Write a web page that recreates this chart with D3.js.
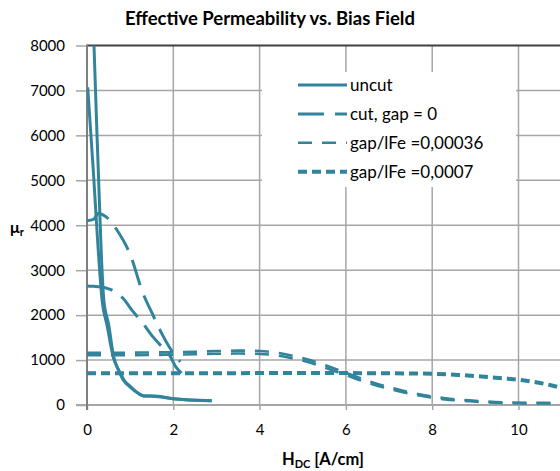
<!DOCTYPE html>
<html>
<head>
<meta charset="utf-8">
<script src="https://cdn.jsdelivr.net/npm/d3@7"></script>
<style>
  body { margin: 0; background: #fff; }
  svg { display: block; font-family: Lato, "Open Sans", sans-serif; }
</style>
</head>
<body>
<div id="chart"></div>
<script>
// values: [H_DC (A/cm), mu_r]
const uncutA = [[0.016,7070],[0.146,5220],[0.25,3600],[0.35,2330],[0.47,1750],[0.6,1100],[0.72,790],[0.84,560],[1.0,400],[1.19,260],[1.3,205],[1.54,195],[2.0,140],[2.89,95]];
const uncutB = [[0.12,9500],[0.162,8000],[0.262,5220],[0.33,3400],[0.39,2330],[0.5,1800],[0.62,1060],[0.74,770],[0.86,550],[1.02,400],[1.2,250],[1.32,200],[1.55,200],[2.0,140],[2.89,95]];
const cutA = [[0,4100],[0.15,4130],[0.26,4260],[0.37,4230],[0.49,4150],[0.69,3900],[1.0,3350],[1.3,2480],[1.5,2060],[1.69,1670],[1.9,1300],[2.16,960]];
const cutB = [[0,2650],[0.15,2640],[0.3,2630],[0.45,2600],[0.57,2560],[0.84,2370],[1.05,2100],[1.27,1850],[1.5,1550],[1.75,1280],[1.92,1100],[2.05,860],[2.19,710]];
const gap36A = [[0,1160],[0.5,1160],[1,1165],[1.5,1170],[2,1175],[2.5,1185],[3,1200],[3.5,1210],[4,1200],[4.3,1175],[4.8,1090],[5.2,990],[5.5,890],[6,720],[6.5,540],[7.1,370],[7.7,240],[8.3,150],[9,95],[9.6,60],[10.3,50],[11,50],[12,50]];
const gap36B = [[0,1110],[1,1110],[2,1120],[3,1140],[3.5,1145],[4,1135],[4.3,1115],[4.8,1030],[5.2,935],[5.5,835],[6,665],[6.5,495],[7.1,335],[7.7,210],[8.3,125],[9,75],[9.6,45],[10.3,35],[11,35],[12,35]];
const gap7 = [[0,705],[1,705],[2,705],[3,708],[4,710],[5,712],[6,710],[7,705],[8,695],[8.6,670],[9.2,630],[9.7,590],[10.1,550],[10.5,490],[10.8,430],[11,385],[11.5,300],[12,230]];

const legendNames = ['uncut', 'cut, gap = 0', 'gap/lFe =0,00036', 'gap/lFe =0,0007'];
const xTicks = [0, 2, 4, 6, 8, 10];
const yTicks = [0, 1000, 2000, 3000, 4000, 5000, 6000, 7000, 8000];

const teal = '#31849b';
const dashes = ['none', '26,11', '14,10', '9,5'];
const widths = [3, 3, 2.6, 4];

const series = [
    {leg: 0, pts: uncutA}, {leg: 0, pts: uncutB},
    {leg: 1, pts: cutA}, {leg: 1, pts: cutB},
    {leg: 2, pts: gap36A}, {leg: 2, pts: gap36B},
    {leg: 3, pts: gap7}
];

const W = 560, H = 471;
const pLeft = 87, pTop = 45.5, pBottom = 405;

const svg = d3.select('#chart').append('svg')
    .attr('width', W)
    .attr('height', H);

// plot runs past the right edge of the picture, as in the cropped original
const x = d3.scaleLinear().domain([0, 12]).range([pLeft, pLeft + 43.15 * 12]);
const y = d3.scaleLinear().domain([0, 8000]).range([pBottom, pTop]);

// gridlines
svg.append('g')
    .selectAll('line')
    .data(yTicks.filter(d => d > 0 && d < 8000))
    .join('line')
    .attr('x1', pLeft).attr('x2', x(12))
    .attr('y1', d => y(d)).attr('y2', d => y(d))
    .attr('stroke', '#a6a6a6').attr('stroke-width', 1.5);

svg.append('g')
    .selectAll('line')
    .data(xTicks.filter(d => d > 0))
    .join('line')
    .attr('x1', d => x(d)).attr('x2', d => x(d))
    .attr('y1', pTop).attr('y2', pBottom)
    .attr('stroke', '#a6a6a6').attr('stroke-width', 1.5);

// top border
svg.append('line')
    .attr('x1', pLeft).attr('x2', x(12))
    .attr('y1', y(8000)).attr('y2', y(8000))
    .attr('stroke', '#404040').attr('stroke-width', 2);

// Y-axis
const yAxis = svg.append('g')
    .attr('transform', `translate(${pLeft},0)`)
    .call(d3.axisLeft(y).tickValues(yTicks).tickSize(11).tickPadding(11).tickFormat(d3.format('d')));
yAxis.select('.domain').remove();
yAxis.selectAll('.tick line').attr('stroke', '#a6a6a6').attr('stroke-width', 1.5);
yAxis.selectAll('.tick text').attr('font-size', 15).attr('fill', '#000').attr('font-family', 'Lato');

// X-axis
const xAxis = svg.append('g')
    .attr('transform', `translate(0,${pBottom})`)
    .call(d3.axisBottom(x).tickValues(xTicks).tickSize(5).tickPadding(14));
xAxis.select('.domain').remove();
xAxis.selectAll('.tick line').attr('stroke', '#a6a6a6').attr('stroke-width', 1.5);
xAxis.selectAll('.tick text').attr('font-size', 15).attr('fill', '#000').attr('font-family', 'Lato');

svg.append('line')
    .attr('x1', pLeft - 11).attr('x2', x(12))
    .attr('y1', pBottom).attr('y2', pBottom)
    .attr('stroke', '#a6a6a6').attr('stroke-width', 2);
svg.append('line')
    .attr('x1', pLeft).attr('x2', pLeft)
    .attr('y1', pTop - 1).attr('y2', pBottom + 5)
    .attr('stroke', '#7f7f7f').attr('stroke-width', 2);

// curves, clipped to plot area
svg.append('clipPath').attr('id', 'plotclip')
    .append('rect')
    .attr('x', pLeft).attr('y', pTop)
    .attr('width', x(12) - pLeft).attr('height', pBottom - pTop);

const line = d3.line()
    .x(d => x(d[0]))
    .y(d => y(d[1]))
    .curve(d3.curveMonotoneX);

svg.append('g')
    .attr('clip-path', 'url(#plotclip)')
    .selectAll('path')
    .data(series)
    .join('path')
    .attr('d', d => line(d.pts))
    .attr('fill', 'none')
    .attr('stroke', teal)
    .attr('stroke-width', d => widths[d.leg])
    .attr('stroke-dasharray', d => dashes[d.leg])
    .attr('stroke-linejoin', 'round');

// legend
svg.append('rect')
    .attr('x', 262).attr('y', 72)
    .attr('width', 254).attr('height', 115)
    .attr('fill', '#fff');

const legendItems = svg.append('g')
    .selectAll('.legend-item')
    .data(legendNames)
    .enter().append('g')
    .attr('class', 'legend-item')
    .attr('transform', (d, i) => `translate(298, ${85 + i * 28.9})`);

legendItems.append('line')
    .attr('x1', 0).attr('x2', 49)
    .attr('stroke', teal)
    .attr('stroke-width', (d, i) => widths[i])
    .attr('stroke-dasharray', (d, i) => dashes[i]);

legendItems.append('text')
    .attr('x', 52)
    .attr('y', 6)
    .attr('font-size', 17)
    .text(d => d);

// title
svg.append('text')
    .attr('x', 270)
    .attr('y', 25)
    .attr('text-anchor', 'middle')
    .attr('font-size', 18.5)
    .attr('font-weight', 'bold')
    .text('Effective Permeability vs. Bias Field');

// X-axis label
const xl = svg.append('text')
    .attr('x', 323)
    .attr('y', 465)
    .attr('text-anchor', 'middle')
    .attr('font-size', 16.5)
    .attr('font-weight', 'bold');
xl.append('tspan').text('H');
xl.append('tspan').attr('font-size', 11).attr('dy', 3).text('DC');
xl.append('tspan').attr('dy', -3).text(' [A/cm]');

// Y-axis label
const yl = svg.append('text')
    .attr('x', 10)
    .attr('y', 233)
    .attr('font-size', 16)
    .attr('font-weight', 'bold');
yl.append('tspan').text('μ');
yl.append('tspan').attr('font-size', 11).attr('dy', 3).text('r');
</script>
</body>
</html>
